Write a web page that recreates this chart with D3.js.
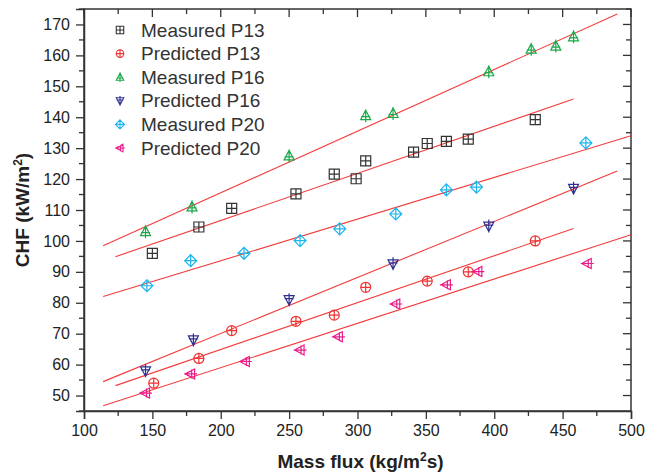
<!DOCTYPE html>
<html lang="en">
<head>
  <meta charset="UTF-8">
  <title>CHF vs Mass flux</title>
  <style>
    body { margin: 0; background: #fff; }
    svg { display: block; font-family: "Liberation Sans", Arial, sans-serif; }
    .axis path, .axis line { stroke: #333; }
    .axis text { fill: #222; font-size: 16px; }
  </style>
</head>
<body>
  <div id="chart"></div>
  <script src="https://d3js.org/d3.v7.min.js"></script>
  <script>
    // data
    const measuredP13X = [150, 184, 208, 255, 283, 299, 306, 341, 351, 365, 381, 430]
    const measuredP13Y = [96, 104.5, 110.5, 115.2, 121.6, 120.1, 125.9, 128.7, 131.5, 132.2, 132.9, 139.2]
    const predictedP13X = [151, 184, 208, 255, 283, 306, 351, 381, 430]
    const predictedP13Y = [54, 62, 71, 74, 76, 85, 87, 90, 100]
    const measuredP16X = [145, 179, 250, 306, 326, 396, 427, 445, 458]
    const measuredP16Y = [103, 111, 127.5, 140.5, 141.2, 154.7, 162, 163, 166]
    const predictedP16X = [145, 180, 250, 326, 396, 458]
    const predictedP16Y = [58, 68, 81, 92.6, 104.8, 117]
    const measuredP20X = [146, 178, 217, 258, 287, 328, 365, 387, 467]
    const measuredP20Y = [85.5, 93.6, 96, 100.1, 103.9, 108.7, 116.5, 117.4, 131.7]
    const predictedP20X = [145, 178, 218, 258, 286, 328, 365, 388, 468]
    const predictedP20Y = [50.8, 57, 61, 64.7, 69, 79.6, 85.8, 90.1, 92.7]

    // fitted red lines: [x0, y0, x1, y1]
    const fitLines = [
      [114, 98.4, 490, 173.4],
      [123, 94.9, 458, 145.9],
      [114, 82, 500, 134],
      [114, 54.5, 490, 122.6],
      [123, 53.2, 458, 104],
      [114, 46.7, 500, 102]
    ]

    const xTicks = [100, 150, 200, 250, 300, 350, 400, 450, 500]
    const yTicks = [50, 60, 70, 80, 90, 100, 110, 120, 130, 140, 150, 160, 170]

    const series = [
      { name: 'Measured P13', x: measuredP13X, y: measuredP13Y, shape: 'square', color: '#333333' },
      { name: 'Predicted P13', x: predictedP13X, y: predictedP13Y, shape: 'circle', color: '#ee3333' },
      { name: 'Measured P16', x: measuredP16X, y: measuredP16Y, shape: 'triUp', color: '#1aa84a' },
      { name: 'Predicted P16', x: predictedP16X, y: predictedP16Y, shape: 'triDown', color: '#2e3192' },
      { name: 'Measured P20', x: measuredP20X, y: measuredP20Y, shape: 'diamond', color: '#1cb5ee' },
      { name: 'Predicted P20', x: predictedP20X, y: predictedP20Y, shape: 'triLeft', color: '#ec1c8c' }
    ]

    const W = 645, H = 474
    const m = { left: 84, right: 14, top: 9, bottom: 63 }
    const w = W - m.left - m.right, h = H - m.top - m.bottom

    const xScale = d3.scaleLinear().domain([100, 500]).range([0, w])
    const yScale = d3.scaleLinear().domain([45, 175]).range([h, 0])

    const svg = d3.select('#chart').append('svg')
      .attr('width', W).attr('height', H)
    const g = svg.append('g').attr('transform', `translate(${m.left},${m.top})`)

    const minorX = d3.range(100, 501, 25)
    const minorY = d3.range(45, 176, 5)

    // frame
    g.append('rect').attr('width', w).attr('height', h)
      .attr('fill', 'none').attr('stroke', '#333').attr('stroke-width', 1.5)

    // bottom axis (ticks out)
    const xAxis = g.append('g').attr('class', 'axis').attr('transform', `translate(0,${h})`)
      .call(d3.axisBottom(xScale).tickValues(xTicks).tickSize(8).tickPadding(6))
    xAxis.selectAll('.tick line').attr('stroke-width', 1.3)
    xAxis.select('.domain').attr('stroke-width', 1.5)
    g.append('g').attr('transform', `translate(0,${h})`)
      .selectAll('line').data(minorX.filter(v => v % 50 !== 0)).enter().append('line')
      .attr('x1', d => xScale(d)).attr('x2', d => xScale(d))
      .attr('y1', 0).attr('y2', 5).attr('stroke', '#333').attr('stroke-width', 1.3)

    // left axis (ticks out)
    const yAxis = g.append('g').attr('class', 'axis')
      .call(d3.axisLeft(yScale).tickValues(yTicks).tickSize(8).tickPadding(6))
    yAxis.selectAll('.tick line').attr('stroke-width', 1.3)
    yAxis.select('.domain').attr('stroke-width', 1.5)
    g.append('g').selectAll('line').data(minorY.filter(v => v % 10 !== 0)).enter().append('line')
      .attr('x1', 0).attr('x2', -5)
      .attr('y1', d => yScale(d)).attr('y2', d => yScale(d)).attr('stroke', '#333').attr('stroke-width', 1.3)

    // top mirror ticks (inward)
    g.append('g').selectAll('line').data(minorX).enter().append('line')
      .attr('x1', d => xScale(d)).attr('x2', d => xScale(d))
      .attr('y1', 0).attr('y2', d => d % 50 === 0 ? 8 : 5)
      .attr('stroke', '#333').attr('stroke-width', 1.3)

    // right mirror ticks (inward)
    g.append('g').selectAll('line').data(minorY.filter(v => v >= 50)).enter().append('line')
      .attr('x1', w).attr('x2', d => d % 10 === 0 ? w - 8 : w - 5)
      .attr('y1', d => yScale(d)).attr('y2', d => yScale(d))
      .attr('stroke', '#333').attr('stroke-width', 1.3)

    // axis titles
    svg.append('text')
      .attr('x', m.left + w / 2 + 3).attr('y', 468)
      .attr('text-anchor', 'middle')
      .style('font-size', '19px').style('font-weight', 'bold').style('fill', '#222')
      .html('Mass flux (kg/m<tspan dy="-7" font-size="12px">2</tspan><tspan dy="7">s)</tspan>')

    svg.append('text')
      .attr('transform', `translate(29,${m.top + h / 2}) rotate(-90)`)
      .attr('text-anchor', 'middle')
      .style('font-size', '19px').style('font-weight', 'bold').style('fill', '#222')
      .html('CHF (kW/m<tspan dy="-7" font-size="12px">2</tspan><tspan dy="7">)</tspan>')

    // fit lines
    g.append('g').selectAll('line').data(fitLines).enter().append('line')
      .attr('x1', d => xScale(d[0])).attr('y1', d => yScale(d[1]))
      .attr('x2', d => xScale(d[2])).attr('y2', d => yScale(d[3]))
      .attr('stroke', '#f23c3c').attr('stroke-width', 1.1)

    // marker paths, centred on 0,0
    function markerPath(shape, s) {
      const r = 5 * s
      switch (shape) {
        case 'square':
          return `M${-r},${-r}H${r}V${r}H${-r}Z M${-r},0H${r} M0,${-r}V${r}`
        case 'circle':
          return `M${r},0A${r},${r} 0 1,1 ${-r},0A${r},${r} 0 1,1 ${r},0Z M${-r},0H${r} M0,${-r}V${r}`
        case 'triUp':
          return `M0,${-1.1 * r}L${r},${0.8 * r}L${-r},${0.8 * r}Z M0,${-1.3 * r}V${1.3 * r} M${-0.9 * r},${0.2 * r}H${0.9 * r}`
        case 'triDown':
          return `M0,${1.1 * r}L${r},${-0.8 * r}L${-r},${-0.8 * r}Z M0,${1.3 * r}V${-1.3 * r} M${-0.9 * r},${-0.2 * r}H${0.9 * r}`
        case 'diamond':
          return `M0,${-1.2 * r}L${1.2 * r},0L0,${1.2 * r}L${-1.2 * r},0Z M${-1.2 * r},0H${1.2 * r} M0,${-1.2 * r}V${1.2 * r}`
        case 'triLeft':
          return `M${-1.1 * r},0L${0.8 * r},${-r}L${0.8 * r},${r}Z M${-1.3 * r},0H${1.3 * r} M${0.2 * r},${-0.9 * r}V${0.9 * r}`
      }
    }

    // points
    series.forEach(sr => {
      g.append('g').selectAll('path').data(sr.x).enter().append('path')
        .attr('transform', (d, i) => `translate(${xScale(d)},${yScale(sr.y[i])})`)
        .attr('d', markerPath(sr.shape, 1))
        .attr('fill', 'none').attr('stroke', sr.color).attr('stroke-width', 1.2)
    })

    // legend
    const legend = svg.append('g')
    series.forEach((sr, i) => {
      const y = 30 + i * 23.6
      legend.append('path')
        .attr('transform', `translate(120,${y})`)
        .attr('d', markerPath(sr.shape, 0.75))
        .attr('fill', 'none').attr('stroke', sr.color).attr('stroke-width', 1.1)
      legend.append('text')
        .attr('x', 141).attr('y', y).attr('dy', '0.35em')
        .style('font-size', '19px').style('fill', '#333')
        .text(sr.name)
    })
  </script>
</body>
</html>
